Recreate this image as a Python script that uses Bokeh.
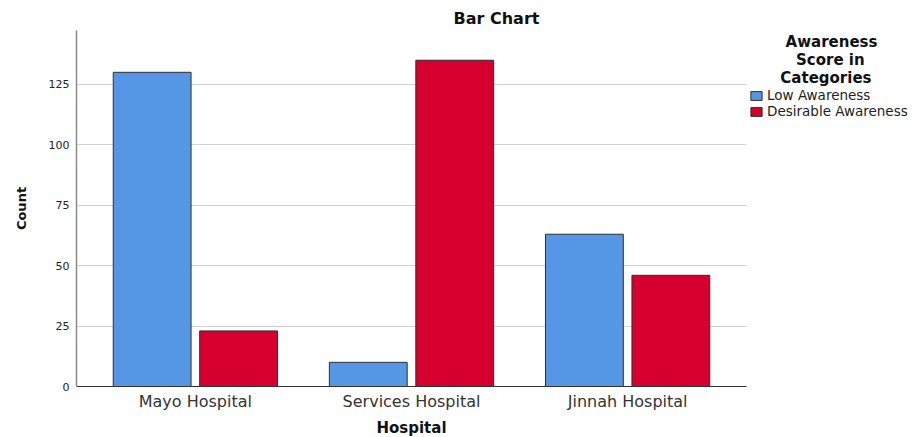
from bokeh.plotting import figure
from bokeh.models import ColumnDataSource, FactorRange, Range1d, Legend, LegendItem
from bokeh.transform import dodge
from bokeh.embed import file_html
from bokeh.resources import INLINE

# ---- data ----
hospitals = ["Mayo Hospital", "Services Hospital", "Jinnah Hospital"]
low_awareness = [130, 10, 63]
desirable_awareness = [23, 135, 46]
series_names = ["Low Awareness", "Desirable Awareness"]
legend_title_lines = ["Awareness", "Score in", "Categories"]
y_ticks = [0, 25, 50, 75, 100, 125]
chart_title = "Bar Chart"

FONT = "DejaVu Sans"
BLUE = "#5596e5"
RED = "#d6002f"
NBSP = "\u00a0"
# leading non-breaking spaces centre each legend-title line over the legend
title_indent = [7, 9, 6]

source = ColumnDataSource(dict(hospital=hospitals, low=low_awareness,
                               desirable=desirable_awareness))

p = figure(frame_width=670, frame_height=356,
           x_range=FactorRange(factors=hospitals, range_padding=0.05,
                               range_padding_units="absolute"),
           y_range=Range1d(0, 147.3),
           output_backend="svg", toolbar_location=None,
           min_border_left=76, min_border_right=166,
           min_border_top=30, min_border_bottom=51)
p.outline_line_color = None
p.background_fill_color = "white"

# title
p.title.text = chart_title
p.title.text_font = FONT
p.title.text_font_size = "16px"
p.title.text_font_style = "bold"
p.title.text_color = "#111111"
p.title.align = "left"
p.title.offset = 377
p.title.standoff = 5

r_low = p.vbar(x=dodge("hospital", -0.2, range=p.x_range), top="low", width=0.36,
               source=source, fill_color=BLUE, line_color="#2f2f2f", line_width=1)
r_des = p.vbar(x=dodge("hospital", 0.2, range=p.x_range), top="desirable", width=0.36,
               source=source, fill_color=RED, line_color="#2f2f2f", line_width=1)

# grid
p.xgrid.grid_line_color = None
p.ygrid.grid_line_color = "#d2d2d2"
p.ygrid.grid_line_width = 1

# y axis
p.yaxis.ticker = y_ticks
p.yaxis.major_tick_line_color = None
p.yaxis.minor_tick_line_color = None
p.yaxis.major_tick_out = 0
p.yaxis.major_tick_in = 0
p.yaxis.axis_line_color = "#8a8a8a"
p.yaxis.axis_line_width = 1.5
p.yaxis.major_label_text_font = FONT
p.yaxis.major_label_text_font_size = "11px"
p.yaxis.major_label_text_color = "#222222"
p.yaxis.major_label_standoff = 7
p.yaxis.axis_label = "Count"
p.yaxis.axis_label_text_font = FONT
p.yaxis.axis_label_text_font_size = "13px"
p.yaxis.axis_label_text_font_style = "bold"
p.yaxis.axis_label_text_color = "#111111"
p.yaxis.axis_label_standoff = 17

# x axis
p.xaxis.major_tick_line_color = None
p.xaxis.minor_tick_line_color = None
p.xaxis.major_tick_out = 0
p.xaxis.major_tick_in = 0
p.xaxis.axis_line_color = "#333333"
p.xaxis.axis_line_width = 1
p.xaxis.major_label_text_font = FONT
p.xaxis.major_label_text_font_size = "16px"
p.xaxis.major_label_text_color = "#333333"
p.xaxis.major_label_standoff = 5
p.xaxis.axis_label = "Hospital"
p.xaxis.axis_label_text_font = FONT
p.xaxis.axis_label_text_font_size = "15px"
p.xaxis.axis_label_text_font_style = "bold"
p.xaxis.axis_label_text_color = "#111111"
p.xaxis.axis_label_standoff = 5

legend_title = "\n".join(NBSP * n + line for n, line in zip(title_indent, legend_title_lines))
legend = Legend(items=[LegendItem(label=series_names[0], renderers=[r_low]),
                       LegendItem(label=series_names[1], renderers=[r_des])],
                title=legend_title,
                title_text_font=FONT, title_text_font_size="15px",
                title_text_font_style="bold", title_text_color="#111111",
                title_standoff=0,
                location="top_left", orientation="vertical",
                padding=0, margin=3, spacing=0,
                glyph_width=14, glyph_height=11, label_height=12,
                label_standoff=4, label_text_font=FONT, label_text_font_size="13.5px",
                label_text_color="#222222", background_fill_alpha=0,
                border_line_color=None)
p.add_layout(legend, "right")

open("out.html", "w").write(file_html(p, INLINE))
